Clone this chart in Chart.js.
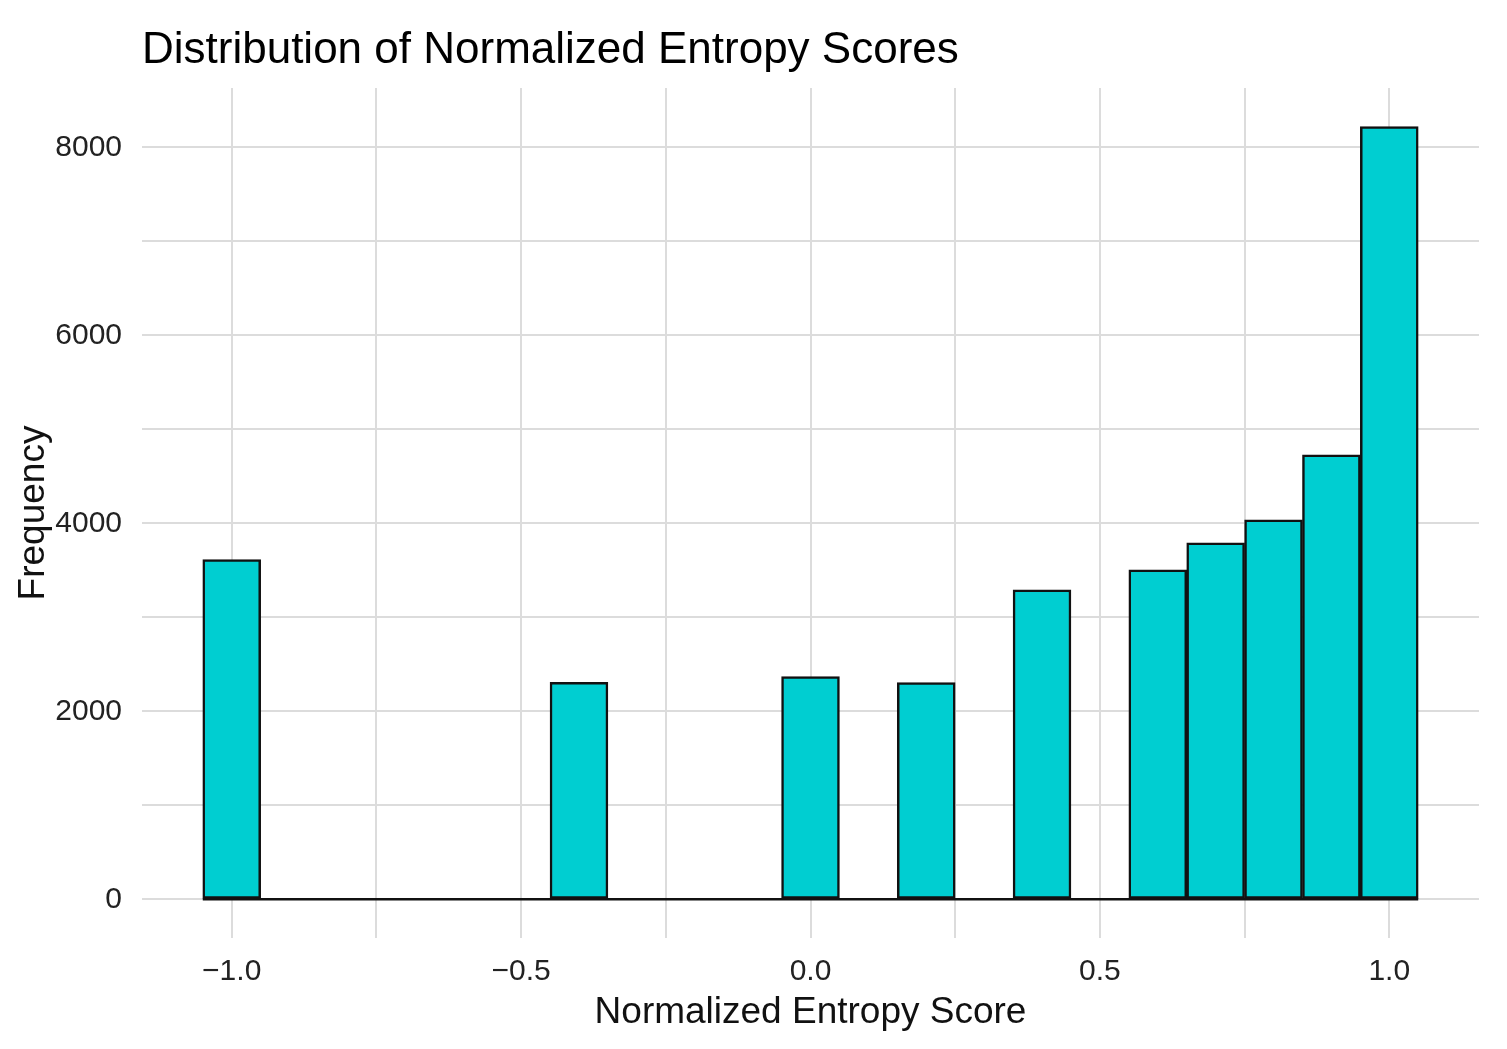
<!DOCTYPE html>
<html>
<head>
<meta charset="utf-8">
<script src="https://cdn.jsdelivr.net/npm/chart.js@4.4.1/dist/chart.umd.min.js"></script>
<style>
  html, body { margin: 0; padding: 0; background: #fff; }
  #wrap { width: 1507px; height: 1049px; position: relative; }
</style>
</head>
<body>
<div id="wrap"><canvas id="histChart"></canvas></div>
<script>
// bin centres (width 0.1) and counts
const binCenters = [-1.0, -0.9, -0.8, -0.7, -0.6, -0.5, -0.4, -0.3, -0.2, -0.1,
                    0.0, 0.1, 0.2, 0.3, 0.4, 0.5, 0.6, 0.7, 0.8, 0.9, 1.0];
const binCounts = [3615, 0, 0, 0, 0, 0, 2310, 0, 0, 0,
                   2370, 0, 2305, 0, 3293, 0, 3506, 3793, 4038, 4729, 8220];
const binWidth = 0.1;

// axis breaks
const xBreaks = [-1.0, -0.5, 0.0, 0.5, 1.0];
const xBreakLabels = ['\u22121.0', '\u22120.5', '0.0', '0.5', '1.0'];
const xMinorBreaks = [-0.75, -0.25, 0.25, 0.75];
const yBreaks = [0, 2000, 4000, 6000, 8000];
const yBreakLabels = ['0', '2000', '4000', '6000', '8000'];
const yMinorBreaks = [1000, 3000, 5000, 7000];

const titleText = 'Distribution of Normalized Entropy Scores';
const xTitle = 'Normalized Entropy Score';
const yTitle = 'Frequency';

const FONT = "'Liberation Sans', Arial, sans-serif";

// ggplot-style 5% expansion
const xLo = binCenters[0] - binWidth / 2, xHi = binCenters[binCenters.length - 1] + binWidth / 2;
const xPad = (xHi - xLo) * 0.05;
const yMax = Math.max(...binCounts);
const yPad = yMax * 0.05;

function allTicks(major, minor) {
  return major.concat(minor).sort((a, b) => a - b).map(v => ({ value: v }));
}

const titlePlugin = {
  id: 'leftTitle',
  afterDraw(chart) {
    const ctx = chart.ctx;
    ctx.save();
    ctx.font = '44px ' + FONT;
    ctx.fillStyle = '#000';
    ctx.textAlign = 'left';
    ctx.textBaseline = 'alphabetic';
    ctx.fillText(titleText, chart.chartArea.left, 63);
    ctx.restore();
  }
};

new Chart(document.getElementById('histChart'), {
  type: 'bar',
  data: {
    datasets: [{
      label: 'count',
      data: binCenters.map((c, i) => ({ x: c, y: binCounts[i] })),
      backgroundColor: '#00CED1',
      borderColor: '#111',
      borderWidth: 2.5,
      borderSkipped: false,
      barPercentage: 1.0,
      categoryPercentage: 1.0,
      order: 1
    }, {
      type: 'line',
      label: 'baseline',
      data: [{ x: xLo, y: 0 }, { x: xHi, y: 0 }],
      borderColor: '#111',
      borderWidth: 2.5,
      pointRadius: 0,
      order: 0
    }]
  },
  options: {
    responsive: true,
    maintainAspectRatio: false,
    animation: false,
    layout: { padding: { top: 88, right: 28, bottom: 0, left: 0 } },
    plugins: {
      legend: { display: false },
      tooltip: { enabled: false },
      title: { display: false }
    },
    scales: {
      x: {
        type: 'linear',
        offset: false,
        min: xLo - xPad,
        max: xHi + xPad,
        afterBuildTicks(scale) { scale.ticks = allTicks(xBreaks, xMinorBreaks); },
        afterFit(scale) { scale.height = 111; },
        border: { display: false },
        grid: { color: '#dcdcdc', lineWidth: 2, drawTicks: false, offset: false },
        ticks: {
          padding: 16,
          autoSkip: false,
          maxRotation: 0,
          color: '#222',
          font: { family: FONT, size: 30 },
          callback(v) {
            const i = xBreaks.findIndex(b => Math.abs(b - v) < 1e-9);
            return i >= 0 ? xBreakLabels[i] : '';
          }
        },
        title: {
          display: true,
          text: xTitle,
          color: '#111',
          font: { family: FONT, size: 37 },
          padding: { top: 0, bottom: 14 }
        }
      },
      y: {
        min: -yPad,
        max: yMax + yPad,
        afterBuildTicks(scale) { scale.ticks = allTicks(yBreaks, yMinorBreaks); },
        afterFit(scale) { scale.width = 142; },
        border: { display: false },
        grid: { color: '#dcdcdc', lineWidth: 2, drawTicks: false },
        ticks: {
          padding: 20,
          autoSkip: false,
          color: '#222',
          font: { family: FONT, size: 30 },
          callback(v) {
            const i = yBreaks.indexOf(v);
            return i >= 0 ? yBreakLabels[i] : '';
          }
        },
        title: {
          display: true,
          text: yTitle,
          color: '#111',
          font: { family: FONT, size: 37 },
          padding: { top: 12, bottom: 0 }
        }
      }
    }
  },
  plugins: [titlePlugin]
});
</script>
</body>
</html>
